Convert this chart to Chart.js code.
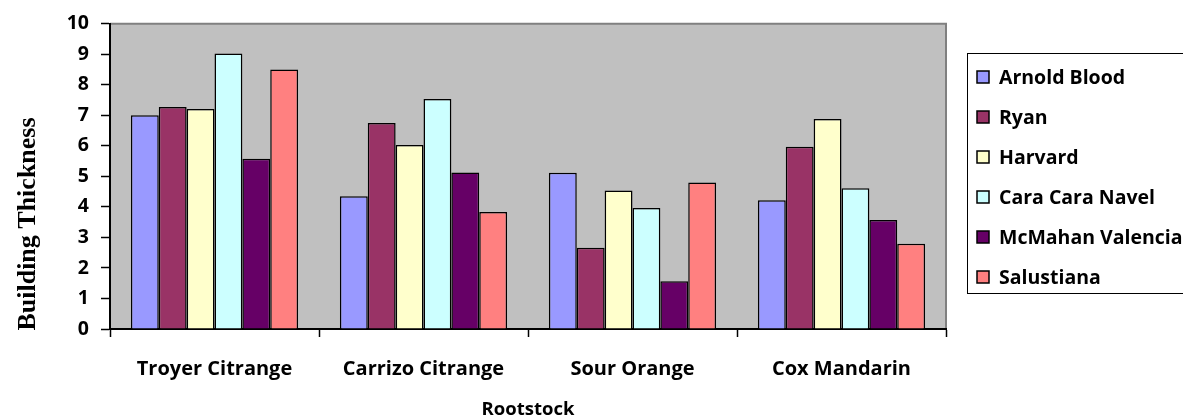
<!DOCTYPE html>
<html>
<head>
<meta charset="utf-8">
<script src="https://cdn.jsdelivr.net/npm/chart.js@4/dist/chart.umd.min.js"></script>
<style>
  html, body { margin: 0; padding: 0; background: #ffffff; overflow: hidden; }
  #wrap { width: 1183px; height: 420px; position: relative; }
</style>
</head>
<body>
<div id="wrap"><canvas id="c" width="1183" height="420"></canvas></div>
<script>
// Rootstock categories along the x axis
const rootstocks = ['Troyer Citrange', 'Carrizo Citrange', 'Sour Orange', 'Cox Mandarin'];

// Scion varieties (one series each), values per rootstock
const arnoldBlood     = [7.00, 4.35, 5.12, 4.22];
const ryan            = [7.27, 6.75, 2.66, 5.97];
const harvard         = [7.21, 6.03, 4.54, 6.88];
const caraCaraNavel   = [9.02, 7.53, 3.96, 4.61];
const mcMahanValencia = [5.58, 5.13, 1.56, 3.57];
const salustiana      = [8.50, 3.83, 4.80, 2.79];

const seriesNames  = ['Arnold Blood', 'Ryan', 'Harvard', 'Cara Cara Navel', 'McMahan Valencia', 'Salustiana'];
const seriesValues = [arnoldBlood, ryan, harvard, caraCaraNavel, mcMahanValencia, salustiana];
const seriesColors = ['#9999FF', '#993366', '#FFFFCC', '#CCFFFF', '#660066', '#FF8080'];

// y axis tick labels
const yTicks = [0, 1, 2, 3, 4, 5, 6, 7, 8, 9, 10];

const SANS = '"Open Sans", Lato, sans-serif';

// grey plotting area with a thin grey frame on the top and right
const plotBackground = {
  id: 'plotBackground',
  beforeDraw(chart) {
    const { ctx, chartArea: a } = chart;
    ctx.save();
    ctx.fillStyle = '#ffffff';
    ctx.fillRect(0, 0, chart.width, chart.height);
    ctx.fillStyle = '#C0C0C0';
    ctx.fillRect(a.left, a.top, a.right - a.left, a.bottom - a.top);
    ctx.strokeStyle = '#808080';
    ctx.lineWidth = 2;
    ctx.beginPath();
    ctx.moveTo(a.left, a.top);
    ctx.lineTo(a.right, a.top);
    ctx.lineTo(a.right, a.bottom);
    ctx.stroke();
    ctx.restore();
  }
};

// rotated y title, placed below the vertical centre of the axis
const yTitle = {
  id: 'yTitle',
  afterDraw(chart) {
    const { ctx } = chart;
    ctx.save();
    ctx.translate(28, 224);
    ctx.rotate(-Math.PI / 2);
    ctx.font = 'bold 26px "Liberation Serif", "Times New Roman", serif';
    ctx.fillStyle = '#000';
    ctx.textAlign = 'center';
    ctx.textBaseline = 'middle';
    ctx.fillText('Building Thickness', 0, 0);
    ctx.restore();
  }
};

// boxed legend on the right, running off the canvas edge
const boxLegend = {
  id: 'boxLegend',
  afterDraw(chart) {
    const { ctx } = chart;
    ctx.save();
    ctx.fillStyle = '#ffffff';
    ctx.fillRect(967, 53, 400, 240);
    ctx.strokeStyle = '#000';
    ctx.lineWidth = 1;
    ctx.strokeRect(967.5, 53.5, 400, 240);
    ctx.font = 'bold 19.5px ' + SANS;
    ctx.textBaseline = 'middle';
    ctx.textAlign = 'left';
    chart.data.datasets.forEach((ds, i) => {
      const cy = 77 + i * 40;
      ctx.fillStyle = ds.backgroundColor;
      ctx.fillRect(977, cy - 6, 12, 12);
      ctx.strokeStyle = '#000';
      ctx.lineWidth = 1.5;
      ctx.strokeRect(977, cy - 6, 12, 12);
      ctx.fillStyle = '#000';
      ctx.fillText(ds.label, 999, cy + 1);
    });
    ctx.restore();
  }
};

new Chart(document.getElementById('c'), {
  type: 'bar',
  data: {
    labels: rootstocks,
    datasets: seriesNames.map((name, i) => ({
      label: name,
      data: seriesValues[i],
      backgroundColor: seriesColors[i],
      borderColor: '#000000',
      borderWidth: 1.5,
      categoryPercentage: 0.8,
      barPercentage: 1.0
    }))
  },
  options: {
    responsive: false,
    animation: false,
    devicePixelRatio: 1,
    layout: { padding: { top: 12.3, right: 237, left: 0, bottom: 0 } },
    plugins: {
      legend: { display: false },
      tooltip: { enabled: false }
    },
    scales: {
      x: {
        afterFit(scale) { scale.height = 91; },
        grid: {
          display: true,
          offset: true,
          drawOnChartArea: false,
          drawTicks: true,
          tickLength: 8,
          tickColor: '#000',
          tickWidth: 1.5
        },
        border: { display: true, color: '#000', width: 2 },
        ticks: {
          color: '#000',
          padding: 20,
          maxRotation: 0,
          font: { family: SANS, size: 20, weight: 'bold' }
        },
        title: {
          display: true,
          text: 'Rootstock',
          color: '#000',
          padding: { top: 0, bottom: 0 },
          font: { family: SANS, size: 18.5, weight: 'bold', lineHeight: 1.1 }
        }
      },
      y: {
        min: 0,
        max: 10,
        afterFit(scale) { scale.width = 110; },
        afterBuildTicks(scale) { scale.ticks = yTicks.map(v => ({ value: v })); },
        grid: {
          display: true,
          drawOnChartArea: false,
          drawTicks: true,
          tickLength: 9,
          tickColor: '#000',
          tickWidth: 1.5
        },
        border: { display: true, color: '#000', width: 2 },
        ticks: {
          color: '#000',
          padding: 12,
          font: { family: SANS, size: 19.5, weight: 'bold' }
        }
      }
    }
  },
  plugins: [plotBackground, yTitle, boxLegend]
});
</script>
</body>
</html>
